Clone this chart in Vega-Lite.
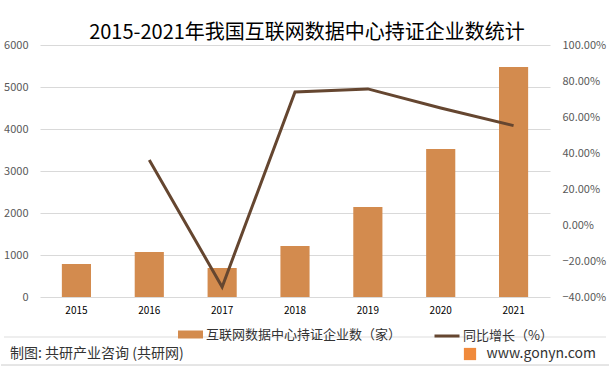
{
  "$schema": "https://vega.github.io/schema/vega-lite/v6.json",
  "width": 510,
  "height": 252,
  "autosize": "none",
  "padding": {"left": 40, "top": 45, "right": 61, "bottom": 74},
  "background": "white",
  "config": {
    "font": "Noto Sans CJK SC",
    "view": {"stroke": null}
  },
  "title": {
    "text": "2015-2021年我国互联网数据中心持证企业数统计",
    "fontSize": 20,
    "fontWeight": "normal",
    "color": "#000000",
    "anchor": "middle",
    "dx": 12,
    "offset": -4
  },
  "data": {
    "values": [
      {"year": "2015", "count": 786, "pct": null},
      {"year": "2016", "count": 1071, "pct": 0.361},
      {"year": "2017", "count": 690, "pct": -0.344},
      {"year": "2018", "count": 1214, "pct": 0.739},
      {"year": "2019", "count": 2143, "pct": 0.756},
      {"year": "2020", "count": 3524, "pct": 0.65},
      {"year": "2021", "count": 5476, "pct": 0.552}
    ]
  },
  "layer": [
    {
      "mark": {"type": "bar", "width": {"band": 0.4}},
      "encoding": {
        "x": {
          "field": "year",
          "type": "nominal",
          "scale": {"paddingInner": 0, "paddingOuter": 0},
          "axis": {
            "title": null,
            "labelAngle": 0,
            "labelFontSize": 10,
            "labelColor": "#000000",
            "domain": false,
            "ticks": false,
            "labelPadding": 8
          }
        },
        "y": {
          "field": "count",
          "type": "quantitative",
          "scale": {"domain": [0, 6000], "nice": false},
          "axis": {
            "title": null,
            "values": [0, 1000, 2000, 3000, 4000, 5000, 6000],
            "format": "d",
            "grid": true,
            "gridColor": "#d9d9d9",
            "domain": false,
            "ticks": false,
            "labelFontSize": 11,
            "labelColor": "#595959",
            "labelPadding": 12
          }
        },
        "fill": {
          "datum": "互联网数据中心持证企业数（家）",
          "scale": {"range": ["#D38B4E"]},
          "legend": {
            "orient": "none",
            "legendX": 138,
            "legendY": 277,
            "title": null,
            "symbolType": "M-1,-0.32H1V0.32H-1Z",
            "symbolSize": 625,
            "symbolStrokeWidth": 0,
            "labelFontSize": 13,
            "labelLimit": 400,
            "labelColor": "#333333",
            "labelOffset": 3
          }
        }
      }
    },
    {
      "transform": [{"filter": "datum.pct != null"}],
      "mark": {"type": "line", "strokeWidth": 3},
      "encoding": {
        "x": {"field": "year", "type": "nominal"},
        "y": {
          "field": "pct",
          "type": "quantitative",
          "scale": {"domain": [-0.4, 1.0], "nice": false},
          "axis": {
            "title": null,
            "orient": "right",
            "values": [-0.4, -0.2, 0, 0.2, 0.4, 0.6, 0.8, 1.0],
            "format": ".2%",
            "grid": false,
            "domain": false,
            "ticks": false,
            "labelFontSize": 11,
            "labelColor": "#595959",
            "labelPadding": 12
          }
        },
        "stroke": {
          "datum": "同比增长（%）",
          "scale": {"range": ["#654630"]},
          "legend": {
            "orient": "none",
            "legendX": 393,
            "legendY": 277,
            "title": null,
            "symbolType": "stroke",
            "symbolSize": 625,
            "symbolStrokeWidth": 3,
            "labelFontSize": 13,
            "labelLimit": 300,
            "labelColor": "#333333",
            "labelOffset": 2
          }
        }
      }
    },
    {
      "data": {"values": [{"t": "制图: 共研产业咨询 (共研网)"}]},
      "mark": {"type": "text", "align": "left", "baseline": "middle", "fontSize": 14, "color": "#333333"},
      "encoding": {
        "text": {"field": "t"},
        "x": {"value": -30},
        "y": {"value": 309}
      }
    },
    {
      "data": {"values": [{"t": "www.gonyn.com"}]},
      "mark": {"type": "text", "align": "right", "baseline": "middle", "fontSize": 14, "color": "#333333"},
      "encoding": {
        "text": {"field": "t"},
        "x": {"value": 556},
        "y": {"value": 309}
      }
    },
    {
      "data": {"values": [{"t": "G"}]},
      "mark": {"type": "square", "size": 150, "color": "#F08A3C", "opacity": 1},
      "encoding": {
        "x": {"value": 430},
        "y": {"value": 309}
      }
    },
    {
      "data": {"values": [{"t": "line"}]},
      "mark": {"type": "rule", "color": "#dddddd", "strokeWidth": 1},
      "encoding": {
        "x": {"value": -36},
        "x2": {"value": 566},
        "y": {"value": 292},
        "y2": {"value": 292}
      }
    },
    {
      "data": {"values": [{"t": "bottom"}]},
      "mark": {"type": "rule", "color": "#cccccc", "strokeWidth": 1},
      "encoding": {
        "x": {"value": -39},
        "x2": {"value": 569},
        "y": {"value": 320},
        "y2": {"value": 320}
      }
    }
  ],
  "resolve": {"scale": {"y": "independent"}}
}
